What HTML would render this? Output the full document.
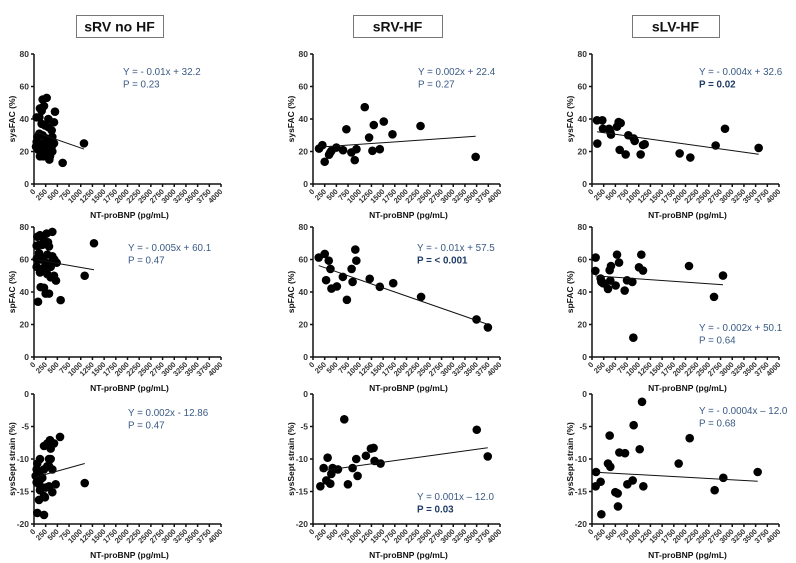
<!DOCTYPE html>
<html><head><meta charset="utf-8"><style>
body{margin:0;background:#fff;width:796px;height:563px;overflow:hidden;font-family:"Liberation Sans",Arial,sans-serif}
svg{display:block}
</style></head><body>
<svg id="c" width="796" height="563" viewBox="0 0 796 563"></svg>
<script>
const xTicks=[0,250,500,750,1000,1250,1500,1750,2000,2250,2500,2750,3000,3250,3500,3750,4000];
const fracTicks=[0,20,40,60,80];
const strainTicks=[0,-5,-10,-15,-20];
const groupTitles=["sRV no HF","sRV-HF","sLV-HF"];
const rowTitles=["sysFAC (%)","spFAC (%)","sysSept strain (%)"];

const r1c1X=[57,115,164,185,271,214,128,307,449,428,164,235,307,378,71,114,185,271,342,392,57,143,235,328,378,93,185,285,392,128,328,342,613,1069,43,200,257,428];
const r1c1Y=[41,41,45,52,53,48,46.5,40,44.5,38,37,36,35,33,29,31,30,28,27,29,26,25,23,24.5,23,21,20,18.5,20,17,15,17,13,25,23,17,20,25];
const r2c1X=[71,128,214,107,57,178,271,392,321,300,107,285,392,435,485,357,250,143,57,128,214,357,285,357,428,470,143,214,250,321,570,86,1084,1283,57,178];
const r2c1Y=[74,75,72,69,68.5,69,76,77,68,70.6,64,63,62,60,58,58,58,60,55.5,52,55,55.5,51,49,50,47,43,42.6,39,39,35,34,50,70,60.4,61];
const r3c1X=[71,128,57,36,107,178,214,285,214,285,342,428,557,357,321,357,321,392,107,178,128,250,214,321,392,464,107,235,71,214,1085,57,143];
const r3c1Y=[-10.7,-10,-11.6,-12.6,-12.3,-12.9,-11.6,-11.1,-8,-7.6,-7.1,-7.6,-6.6,-8.4,-10,-10,-11.1,-11.6,-13.9,-14.4,-14.8,-14.4,-15.7,-14.2,-15.1,-13.9,-16.3,-15.9,-18.3,-18.6,-13.7,-13.6,-13.1];
const r1c2X=[129,200,250,343,393,500,643,714,821,893,929,1107,1200,1271,1300,1429,1514,1700,2300,3479,371];
const r1c2Y=[21.8,23.9,13.7,18,20.4,22.4,20.8,33.7,19.4,14.7,21.4,47.3,28.6,20.4,36.3,21.4,38.4,30.6,35.7,16.7,19.4];
const r2c2X=[122,251,280,337,373,395,510,639,725,826,847,905,927,1213,1429,1716,2312,3497,3741];
const r2c2Y=[61.2,63.4,47.3,59.3,54.2,42.1,43.4,49.3,35.2,54.2,46.2,66.1,59.3,48.1,43.2,45.4,37,23.1,18.2];
const r3c2X=[157,228,285,313,370,392,420,534,669,747,847,925,954,1132,1239,1296,1317,1445,3503,3738];
const r3c2Y=[-14.2,-11.4,-13.3,-9.8,-13.8,-12.3,-11.4,-11.6,-3.9,-13.9,-11.4,-10,-12.6,-9.5,-8.4,-8.3,-10.3,-10.7,-5.5,-9.6];
const r1c3X=[107,114,221,235,364,392,406,535,570,613,592,720,777,891,913,1041,1091,1127,1875,2103,2645,2845,3565];
const r1c3Y=[39.2,24.9,39.2,34,34,32,30.4,35.3,38.1,37.5,21,18.2,30,28,26.5,18.2,24,24.5,18.8,16.3,23.7,34,22.2];
const r2c3X=[78,71,185,200,235,271,342,378,406,392,506,535,578,699,749,863,884,1005,1055,1091,2075,2610,2802];
const r2c3Y=[61.2,53,48.3,46.2,45.4,45.2,41.9,53.4,56,47,44,63,58.1,40.9,47.2,46.2,11.9,55.2,63,53.2,56,37,50.1];
const r3c3X=[78,86,185,200,342,378,392,499,549,556,585,706,756,870,891,1020,1070,1098,1854,2090,2624,2809,3544];
const r3c3Y=[-14.2,-12,-13.5,-18.5,-10.7,-6.4,-11.2,-15.1,-15.3,-17.3,-9,-9.1,-13.9,-13.3,-4.8,-8.5,-1.2,-14.2,-10.7,-6.8,-14.8,-12.9,-12];

const slopes=[[-0.01,0.002,-0.004],[-0.005,-0.01,-0.002],[0.002,0.001,-0.0004]];
const intercepts=[[32.2,22.4,32.6],[60.1,57.5,50.1],[-12.86,-12.0,-12.0]];
const eqLabels=[["Y = - 0.01x + 32.2","Y = 0.002x + 22.4","Y = - 0.004x + 32.6"],
 ["Y = - 0.005x + 60.1","Y = - 0.01x + 57.5","Y = - 0.002x + 50.1"],
 ["Y = 0.002x - 12.86","Y = 0.001x \u2013 12.0","Y = - 0.0004x \u2013 12.0"]];
const pLabels=[["P = 0.23","P = 0.27","P = 0.02"],["P = 0.47","P = < 0.001","P = 0.64"],["P = 0.47","P = 0.03","P = 0.68"]];
const pBold=[[false,false,true],[false,true,false],[false,true,false]];

const XS=[[r1c1X,r1c2X,r1c3X],[r2c1X,r2c2X,r2c3X],[r3c1X,r3c2X,r3c3X]];
const YS=[[r1c1Y,r1c2Y,r1c3Y],[r2c1Y,r2c2Y,r2c3Y],[r3c1Y,r3c2Y,r3c3Y]];

const colL=[34,313,592], W=187;
const rowTop=[54,227,394], H=130;
const eqPos=[[[123,75],[418,75],[699,75]],[[128,251],[417,251],[699,331]],[[128,416],[417,500],[699,414]]];
const boxes=[[76,87],[353,89],[632,87]];
const NS="http://www.w3.org/2000/svg";
const svg=document.getElementById('c');
function mk(tag,attrs,parent,text){const e=document.createElementNS(NS,tag);for(const k in attrs)e.setAttribute(k,attrs[k]);if(text!==undefined)e.textContent=text;(parent||svg).appendChild(e);return e;}

for(let c=0;c<3;c++){
  const g=mk('g',{});
  
  
  mk('rect',{x:boxes[c][0]+0.5,y:15.5,width:boxes[c][1],height:22,fill:'#fff',stroke:'#777','stroke-width':1},g);
  mk('text',{x:boxes[c][0]+boxes[c][1]/2,y:31.5,'text-anchor':'middle','font-size':'14','font-weight':'bold',fill:'#111'},g,groupTitles[c]);
}

for(let r=0;r<3;r++)for(let c=0;c<3;c++){
  const L=colL[c],T=rowTop[r],B=T+H,R=L+W;
  const yt=r===2?strainTicks:fracTicks;
  const ymin=Math.min(...yt),ymax=Math.max(...yt);
  const sx=v=>L+v/4000*W;
  const sy=v=>B-(v-ymin)/(ymax-ymin)*H;
  const g=mk('g',{});
  
  
  const ax=mk('g',{stroke:'#111','stroke-width':1.5,fill:'none'},g);
  
  
  mk('line',{x1:L,y1:T,x2:L,y2:B},ax);
  mk('line',{x1:L,y1:B,x2:R,y2:B},ax);
  yt.forEach(v=>{
    mk('line',{x1:L-3,y1:sy(v),x2:L,y2:sy(v)},ax);
    const t=mk('text',{x:L-5,y:sy(v)+3,'text-anchor':'end','font-size':'8.5','font-weight':'bold',fill:'#333'},g,String(v));
    
    
  });
  xTicks.forEach(v=>{
    mk('line',{x1:sx(v),y1:B,x2:sx(v),y2:B+3},ax);
    const t=mk('text',{x:sx(v)+2,y:B+8,'text-anchor':'end','font-size':'7.5','font-weight':'bold',fill:'#333',transform:'rotate(-45 '+(sx(v)+2)+' '+(B+8)+')'},g,String(v));
    
    
  });
  const xt=mk('text',{x:L+W/2+2,y:B+34,'text-anchor':'middle','font-size':'8.5','font-weight':'bold',fill:'#111'},g,'NT-proBNP (pg/mL)');
  
  
  const ytx=L-19,yty=T+H/2;
  const ytt=mk('text',{x:ytx,y:yty,'text-anchor':'middle','font-size':'8.5','font-weight':'bold',fill:'#111',transform:'rotate(-90 '+ytx+' '+yty+')'},g,rowTitles[r]);
  
  
  const xs=XS[r][c],ys=YS[r][c];
  xs.forEach((v,i)=>{
    const p=mk('circle',{cx:sx(v),cy:sy(ys[i]),r:4.3,fill:'#000'},g);
    
    
  });
  const x0=Math.min(...xs),x1=Math.max(...xs);
  const m=slopes[r][c],b=intercepts[r][c];
  const ln=mk('line',{x1:sx(x0),y1:sy(m*x0+b),x2:sx(x1),y2:sy(m*x1+b),stroke:'#111','stroke-width':1},g);
  
  
  const [ex,ey]=eqPos[r][c];
  const e1=mk('text',{x:ex,y:ey,'font-size':'9.8',fill:'#3a5a85'},g,eqLabels[r][c]);
  
  
  const e2=mk('text',{x:ex,y:ey+12.5,'font-size':'9.8',fill:pBold[r][c]?'#1f3b63':'#3a5a85','font-weight':pBold[r][c]?'bold':'normal'},g,pLabels[r][c]);
  
  
}
</script>
</body></html>
